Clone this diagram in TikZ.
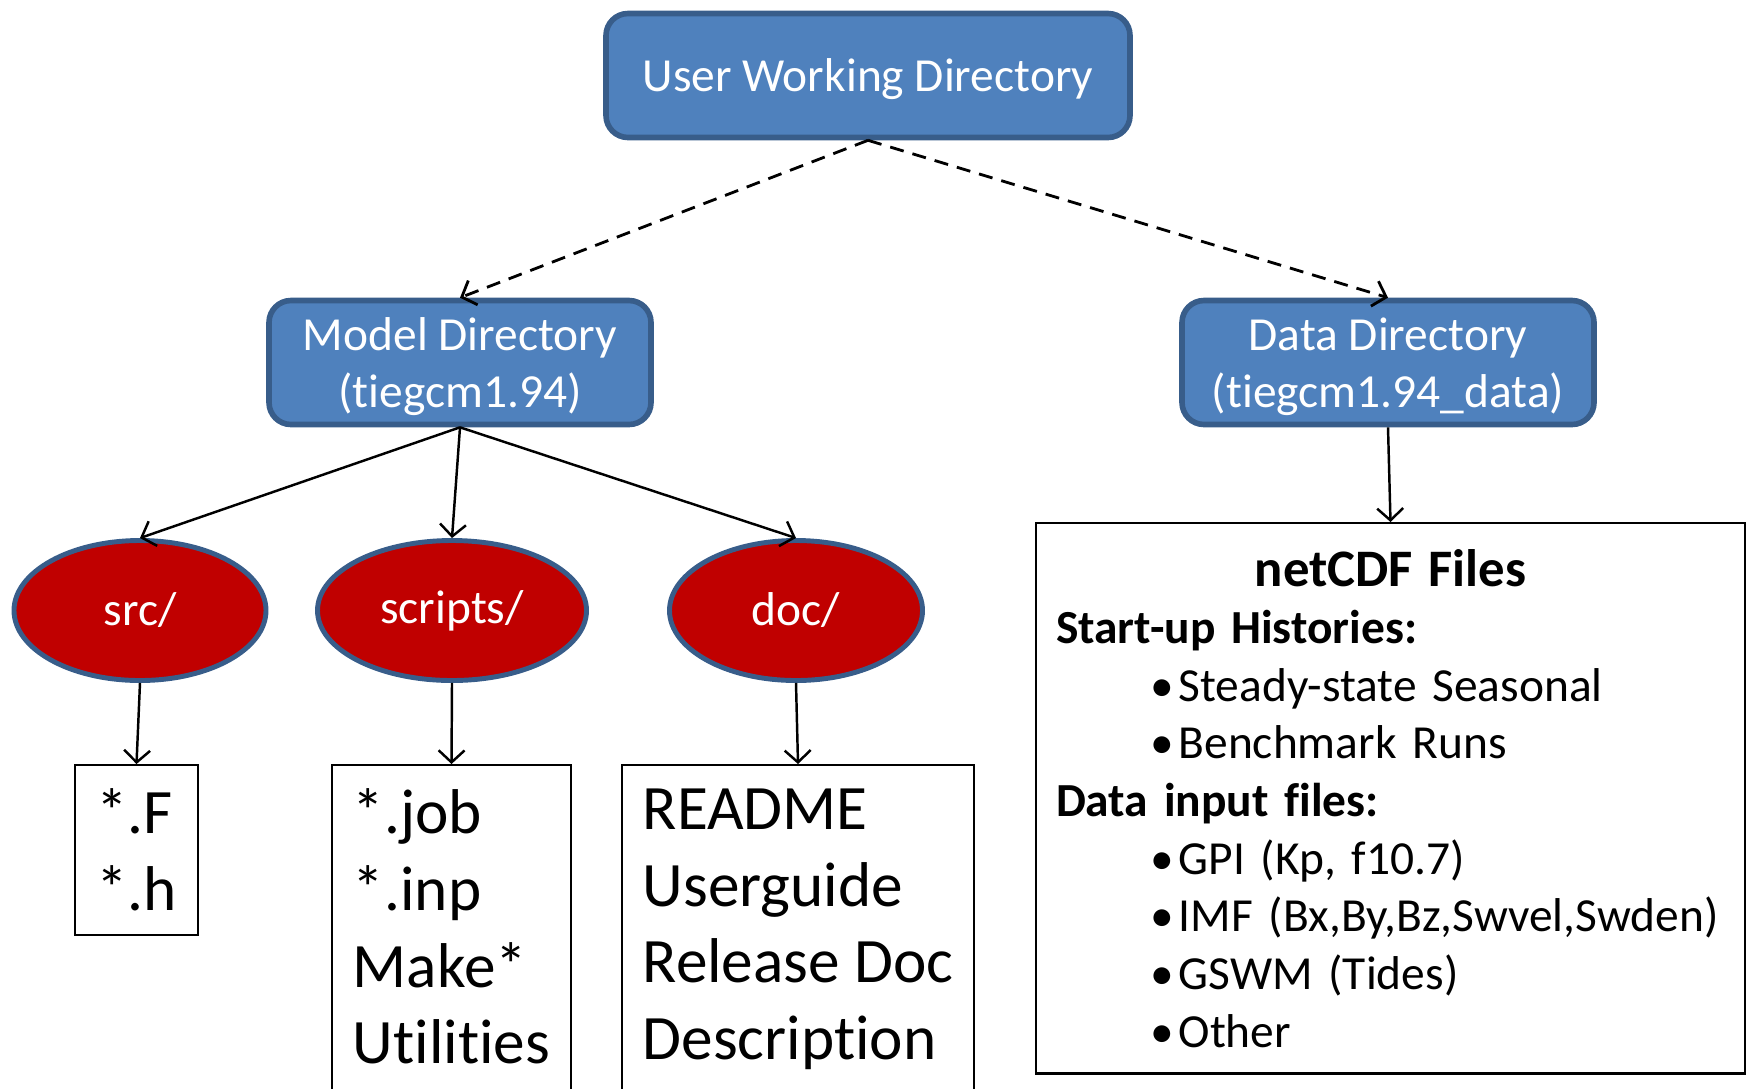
\documentclass[tikz,border=0pt]{standalone}
\usepackage{fontspec}
\setmainfont{Carlito}[Ligatures=NoCommon]
\usetikzlibrary{shapes,arrows.meta,positioning}
\definecolor{dirblue}{RGB}{79,129,189}
\definecolor{dirborder}{RGB}{56,93,138}
\definecolor{subdirred}{RGB}{192,0,0}
\newcommand{\bitem}[1]{\mbox{\hspace*{0.94cm}\textbullet\hspace{0.05cm}#1}\par}

\begin{document}
\begin{tikzpicture}[
    dirbox/.style={draw=dirborder, line width=1.6pt, fill=dirblue, rounded corners=0.22cm, text=white, align=center, minimum height=1.24cm, inner sep=0.05cm, text depth=0pt, font=\fontsize{13.5}{16.2}\selectfont},
    subdir/.style={ellipse, draw=dirborder, line width=1.4pt, fill=subdirred, text=white, minimum height=1.4cm, inner sep=0pt, font=\fontsize{13.5}{16.2}\selectfont},
    filebox/.style={draw, line width=0.6pt, anchor=north, align=left, inner xsep=0.21cm, inner ysep=0.24cm, font=\fontsize{18}{21.8}\selectfont},
    arrow/.style={-{Straight Barb[length=1.2mm,width=2.6mm]}, line width=0.7pt},
    dasharrow/.style={arrow, line width=0.8pt, dash pattern=on 4pt off 2.6pt}
]
\useasboundingbox (0,0) rectangle (17.53,-10.88);

% Directories
\node[dirbox, minimum width=5.24cm] (user) at (8.68,-0.755) {User Working Directory};
\node[dirbox, minimum width=3.82cm] (model) at (4.60,-3.625) {Model Directory\\(tiegcm1.94)};
\node[dirbox, minimum width=4.12cm] (data) at (13.88,-3.625) {Data Directory\\(tiegcm1.94\_data)};

% Sub-directories
\node[subdir, minimum width=2.52cm] (src) at (1.40,-6.105) {src/};
\node[subdir, minimum width=2.69cm] (scripts) at (4.52,-6.105) {scripts/};
\node[subdir, minimum width=2.53cm] (doc) at (7.96,-6.105) {doc/};

% File lists
\node[filebox] (srcfiles) at (1.365,-7.64) {*.F\\*.h};
\node[filebox, text depth=0.8cm] (scriptfiles) at (4.515,-7.64) {*.job\\*.inp\\Make*\\Utilities};
\node[filebox, text depth=0.8cm] (docfiles) at (7.98,-7.64) {README\\Userguide\\Release Doc\\Description};

\node[filebox, text width=6.69cm, inner xsep=0.2cm, inner ysep=0.26cm, font=\fontsize{13.5}{16.4}\selectfont] (files) at (13.905,-5.22) {%
  \parindent=0pt
  {\centering\fontsize{15}{16.4}\selectfont\bfseries netCDF Files\par}
  {\bfseries Start-up Histories:\par}
  \bitem{Steady-state Seasonal}
  \bitem{Benchmark Runs}
  {\bfseries Data input files:\par}
  \bitem{GPI (Kp, f10.7)}
  \bitem{IMF (Bx,By,Bz,Swvel,Swden)}
  \bitem{GSWM (Tides)}
  \bitem{Other}};

% Arrows
\draw[dasharrow] (user.south) -- (model.north);
\draw[dasharrow] (user.south) -- (data.north);
\draw[arrow] (model.south) -- (src.north);
\draw[arrow] (model.south) -- (scripts.north);
\draw[arrow] (model.south) -- (doc.north);
\draw[arrow] (src.south) -- (srcfiles.north);
\draw[arrow] (scripts.south) -- (scriptfiles.north);
\draw[arrow] (doc.south) -- (docfiles.north);
\draw[arrow] (data.south) -- (files.north);

\end{tikzpicture}
\end{document}
